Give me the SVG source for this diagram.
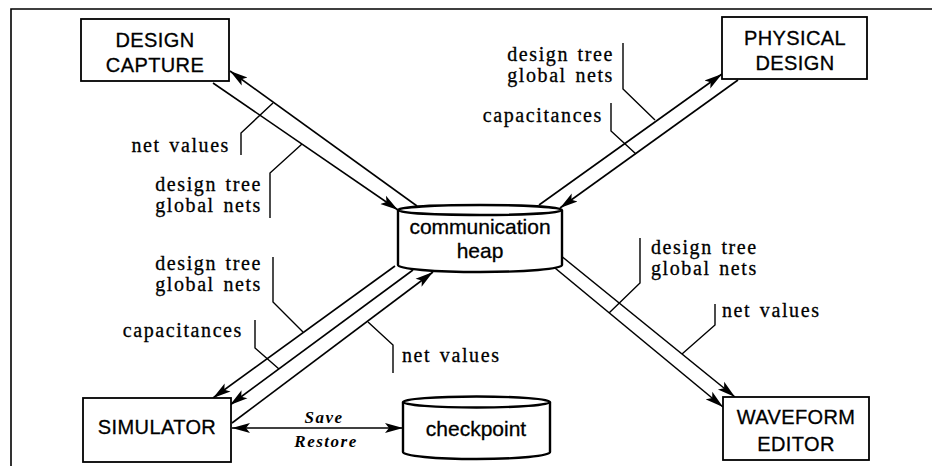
<svg xmlns="http://www.w3.org/2000/svg" width="932" height="466" viewBox="0 0 932 466">
<style>
.box{fill:#fff;stroke:#000;stroke-width:1.8}
.cyl{fill:#fff;stroke:#000;stroke-width:2.4}
.bt{font-family:"Liberation Sans",Arial,sans-serif;font-size:20px;letter-spacing:0.4px;text-anchor:middle;fill:#000;stroke:#000;stroke-width:0.3}
.ct{font-family:"Liberation Sans",Arial,sans-serif;font-size:21px;text-anchor:middle;fill:#000;stroke:#000;stroke-width:0.3}
.lb{font-family:"Liberation Serif","Times New Roman",serif;font-size:20px;letter-spacing:1.6px;word-spacing:2px;fill:#000;stroke:#000;stroke-width:0.3}
.it{font-family:"Liberation Serif","Times New Roman",serif;font-size:17px;font-style:italic;font-weight:bold;letter-spacing:1.5px;text-anchor:middle;fill:#000}
.ln{stroke:#000;stroke-width:1.6;fill:none}
.ld{stroke:#000;stroke-width:1.4;fill:none}
.r{text-anchor:end}
</style>
<defs>
<marker id="ah" markerUnits="userSpaceOnUse" markerWidth="20" markerHeight="12" refX="18" refY="6" orient="auto">
<path d="M0,1 L18,6 L0,11 L4,6 Z" fill="#000"/>
</marker>
<marker id="as" markerUnits="userSpaceOnUse" markerWidth="20" markerHeight="12" refX="0" refY="6" orient="auto">
<path d="M18,1 L0,6 L18,11 L14,6 Z" fill="#000"/>
</marker>
</defs>
<g id="frame">
<path d="M11,466 V9 H932" class="ln" stroke-width="1.8"/>
</g>
<g id="connectors">
<line x1="417" y1="206" x2="230" y2="71" class="ln" marker-end="url(#ah)"/>
<line x1="213" y1="83" x2="398" y2="210" class="ln" marker-end="url(#ah)"/>
<line x1="539" y1="205" x2="722" y2="74" class="ln" marker-end="url(#ah)"/>
<line x1="738" y1="80" x2="560" y2="208" class="ln" marker-end="url(#ah)"/>
<line x1="395" y1="266" x2="213" y2="398" class="ln" marker-end="url(#ah)"/>
<line x1="413" y1="270" x2="230" y2="405" class="ln" marker-end="url(#ah)"/>
<line x1="232" y1="423" x2="433" y2="272" class="ln" marker-end="url(#ah)"/>
<line x1="560" y1="255" x2="735" y2="397" class="ln" marker-end="url(#ah)"/>
<line x1="555" y1="268" x2="723" y2="407" class="ln" marker-end="url(#ah)"/>
<line x1="232" y1="428" x2="403" y2="428" class="ln" marker-start="url(#as)" marker-end="url(#ah)"/>
<path d="M241,155 V133 L273,103" class="ld"/>
<path d="M270,218 V173 L302,144" class="ld"/>
<path d="M623,43 V89 L655,120" class="ld"/>
<path d="M611,103 V131 L636,154" class="ld"/>
<path d="M273,257 V302 L303,332" class="ld"/>
<path d="M255,320 V348 L279,369" class="ld"/>
<path d="M393,373 V345 L368,322" class="ld"/>
<path d="M640,238 V283 L609,313" class="ld"/>
<path d="M715,304 V325 L682,354" class="ld"/>
</g>
<g id="labels">
<text class="lb r" x="230" y="152">net values</text>
<text class="lb r" x="262" y="191">design tree</text>
<text class="lb r" x="262" y="212">global nets</text>
<text class="lb r" x="614" y="61">design tree</text>
<text class="lb r" x="614" y="82">global nets</text>
<text class="lb r" x="603" y="122">capacitances</text>
<text class="lb r" x="262" y="270">design tree</text>
<text class="lb r" x="262" y="291">global nets</text>
<text class="lb r" x="243" y="337">capacitances</text>
<text class="lb" x="402" y="362">net values</text>
<text class="lb" x="651" y="254">design tree</text>
<text class="lb" x="651" y="275">global nets</text>
<text class="lb" x="722" y="317">net values</text>
<text class="it" x="324" y="423">Save</text>
<text class="it" x="326" y="447">Restore</text>
</g>
<g id="design-capture">
<rect class="box" x="81" y="19" width="148" height="62"/>
<text class="bt" x="155" y="47">DESIGN</text>
<text class="bt" x="155" y="72">CAPTURE</text>
</g>
<g id="physical-design">
<rect class="box" x="722" y="17" width="145" height="62"/>
<text class="bt" x="795" y="45">PHYSICAL</text>
<text class="bt" x="795" y="70">DESIGN</text>
</g>
<g id="simulator">
<rect class="box" x="83" y="398" width="148" height="64"/>
<text class="bt" x="157" y="434">SIMULATOR</text>
</g>
<g id="waveform-editor">
<rect class="box" x="723" y="397" width="146" height="63"/>
<text class="bt" x="796" y="424">WAVEFORM</text>
<text class="bt" x="796" y="451">EDITOR</text>
</g>
<g id="communication-heap">
<path class="cyl" d="M398,210 V265 A82,7 0 0 0 562,265 V210"/>
<ellipse class="cyl" cx="480" cy="210" rx="82" ry="5"/>
<text class="ct" x="480" y="234">communication</text>
<text class="ct" x="480" y="258">heap</text>
</g>
<g id="checkpoint">
<path class="cyl" d="M403,402 V452 A73.5,7 0 0 0 550,452 V402"/>
<ellipse class="cyl" cx="476.5" cy="402" rx="73.5" ry="5.5"/>
<text class="ct" x="476" y="436">checkpoint</text>
</g>
</svg>
